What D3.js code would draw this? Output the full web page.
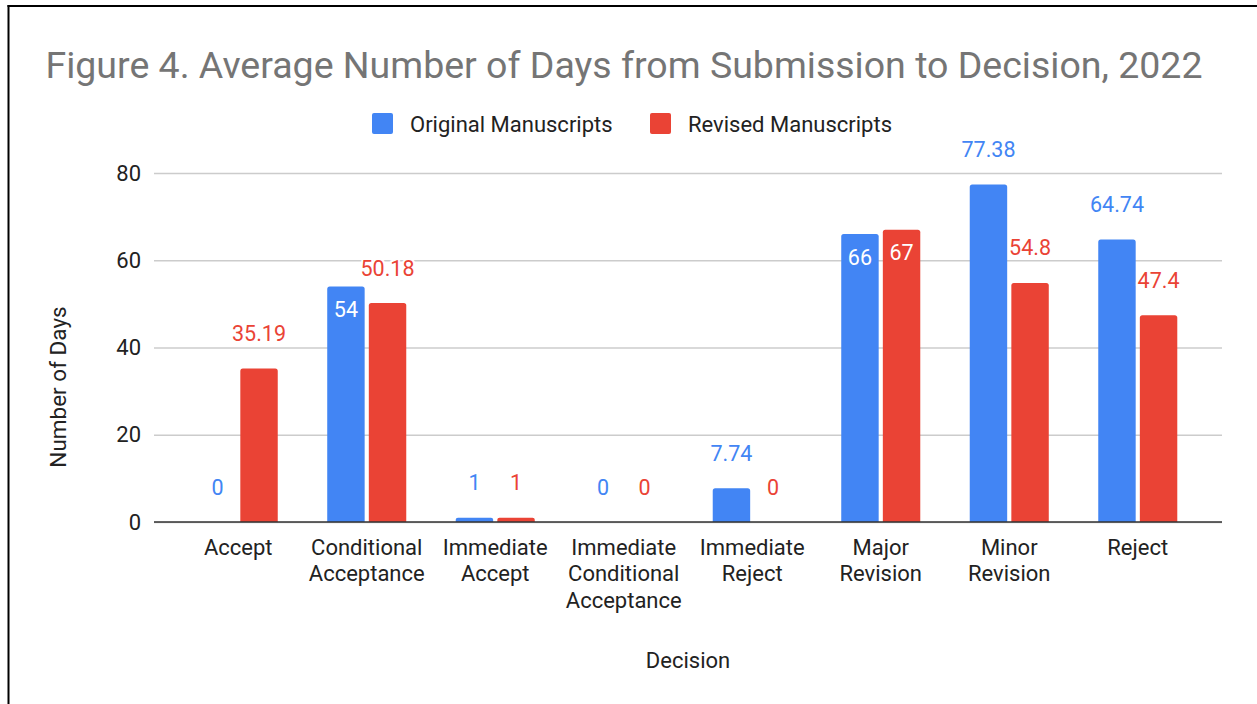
<!DOCTYPE html>
<html>
<head>
<meta charset="utf-8">
<script src="https://cdn.jsdelivr.net/npm/d3@7"></script>
<style>
  body { margin: 0; background: #fff; }
  text { font-family: Roboto, "Liberation Sans", Arial, sans-serif; }
</style>
</head>
<body>
<div id="chart"></div>
<script>
var categories = [
  ["Accept"],
  ["Conditional", "Acceptance"],
  ["Immediate", "Accept"],
  ["Immediate", "Conditional", "Acceptance"],
  ["Immediate", "Reject"],
  ["Major", "Revision"],
  ["Minor", "Revision"],
  ["Reject"]
];
var series = ["Original Manuscripts", "Revised Manuscripts"];
var original = [0, 54, 1, 0, 7.74, 66, 77.38, 64.74];
var revised = [35.19, 50.18, 1, 0, 0, 67, 54.8, 47.4];
var yTicks = [0, 20, 40, 60, 80];
var colors = { orig: "#4285F4", rev: "#EA4335" };

var width = 1257, height = 704;
var margin = { top: 173, right: 35, bottom: 182, left: 154 };

var svg = d3.select("#chart").append("svg")
  .attr("width", width)
  .attr("height", height);

// frame lines (top + left only)
svg.append("line").attr("x1", 7.5).attr("x2", width).attr("y1", 6).attr("y2", 6)
  .attr("stroke", "#000").attr("stroke-width", 2);
svg.append("line").attr("x1", 8.5).attr("x2", 8.5).attr("y1", 5).attr("y2", height)
  .attr("stroke", "#000").attr("stroke-width", 2);

var keys = categories.map(function (d) { return d.join(" "); });

var x0 = d3.scaleBand()
  .domain(keys)
  .range([margin.left, width - margin.right])
  .paddingInner(0.385)
  .paddingOuter(0.348);

var x1 = d3.scaleBand()
  .domain(series)
  .range([0, x0.bandwidth()])
  .paddingInner(0.1);

var y = d3.scaleLinear()
  .domain([0, 80])
  .range([height - margin.bottom, margin.top]);

// title
svg.append("text")
  .attr("x", 624).attr("y", 78)
  .attr("text-anchor", "middle")
  .attr("fill", "#757575")
  .style("font-size", "37.5px")
  .text("Figure 4. Average Number of Days from Submission to Decision, 2022");

// legend
var legend = svg.append("g").attr("class", "legend");
var legendItems = [
  { name: series[0], color: colors.orig, x: 372 },
  { name: series[1], color: colors.rev, x: 650 }
];
legendItems.forEach(function (d) {
  legend.append("rect")
    .attr("x", d.x).attr("y", 113)
    .attr("width", 21).attr("height", 21)
    .attr("rx", 2)
    .attr("fill", d.color);
  legend.append("text")
    .attr("x", d.x + 38).attr("y", 124)
    .attr("dy", "0.35em")
    .attr("fill", "#222")
    .style("font-size", "22px")
    .text(d.name);
});

// gridlines + y ticks
var yAxis = d3.axisLeft(y).tickValues(yTicks).tickSize(-(width - margin.right - margin.left)).tickPadding(13);
var gy = svg.append("g")
  .attr("transform", "translate(" + margin.left + ",0)")
  .call(yAxis);
gy.select(".domain").remove();
gy.selectAll(".tick line").attr("stroke", "#cccccc").attr("stroke-width", 1.5);
gy.selectAll(".tick text")
  .attr("fill", "#222")
  .style("font-size", "22px")
  .style("font-family", "Roboto, sans-serif");

// bars
var rows = keys.map(function (k, i) {
  return { key: k, vals: [
    { s: series[0], v: original[i], c: colors.orig },
    { s: series[1], v: revised[i], c: colors.rev }
  ] };
});

var groups = svg.append("g").selectAll("g")
  .data(rows)
  .enter().append("g")
  .attr("transform", function (d) { return "translate(" + x0(d.key) + ",0)"; });

groups.selectAll("path")
  .data(function (d) { return d.vals.filter(function (e) { return e.v > 0; }); })
  .enter().append("path")
  .attr("fill", function (d) { return d.c; })
  .attr("d", function (d) {
    var x = x1(d.s), w = x1.bandwidth(), top = y(d.v), base = y(0);
    var r = Math.min(2.5, (base - top) / 2);
    return "M" + x + "," + base +
      "V" + (top + r) +
      "Q" + x + "," + top + " " + (x + r) + "," + top +
      "H" + (x + w - r) +
      "Q" + (x + w) + "," + top + " " + (x + w) + "," + (top + r) +
      "V" + base + "Z";
  });

// baseline
svg.append("line")
  .attr("x1", margin.left).attr("x2", width - margin.right)
  .attr("y1", y(0)).attr("y2", y(0))
  .attr("stroke", "#333").attr("stroke-width", 1.5);

// data labels
var inside = { "Conditional Acceptance|Original Manuscripts": 1, "Major Revision|Original Manuscripts": 1, "Major Revision|Revised Manuscripts": 1 };
var fmt = function (v) { return String(v); };

groups.selectAll(".lbl")
  .data(function (d) { return d.vals.map(function (e) { return { key: d.key, s: e.s, v: e.v, c: e.c }; }); })
  .enter().append("text")
  .attr("class", "lbl")
  .attr("x", function (d) { return x1(d.s) + x1.bandwidth() / 2; })
  .attr("y", function (d) { return inside[d.key + "|" + d.s] ? y(d.v) + 23 : y(d.v) - 35; })
  .attr("dy", "0.35em")
  .attr("text-anchor", "middle")
  .style("font-size", "21.5px")
  .attr("fill", function (d) { return inside[d.key + "|" + d.s] ? "#fff" : d.c; })
  .attr("stroke", function (d) { return inside[d.key + "|" + d.s] ? "none" : "#fff"; })
  .attr("stroke-width", 4)
  .attr("paint-order", "stroke")
  .text(function (d) { return fmt(d.v); });

// x category labels
var xl = svg.append("g").selectAll("text")
  .data(categories)
  .enter().append("text")
  .attr("x", function (d) { return x0(d.join(" ")) + x0.bandwidth() / 2; })
  .attr("y", 547)
  .attr("text-anchor", "middle")
  .attr("fill", "#222")
  .style("font-size", "22px");
xl.selectAll("tspan")
  .data(function (d) { return d; })
  .enter().append("tspan")
  .attr("x", function () { return d3.select(this.parentNode).attr("x"); })
  .attr("dy", function (d, i) { return i === 0 ? "0.35em" : "26.7px"; })
  .text(function (d) { return d; });

// axis titles
svg.append("text")
  .attr("x", 688).attr("y", 660)
  .attr("dy", "0.35em")
  .attr("text-anchor", "middle")
  .attr("fill", "#222")
  .style("font-size", "22px")
  .text("Decision");

svg.append("text")
  .attr("transform", "translate(58,387) rotate(-90)")
  .attr("dy", "0.35em")
  .attr("text-anchor", "middle")
  .attr("fill", "#222")
  .style("font-size", "22.5px")
  .text("Number of Days");
</script>
</body>
</html>
